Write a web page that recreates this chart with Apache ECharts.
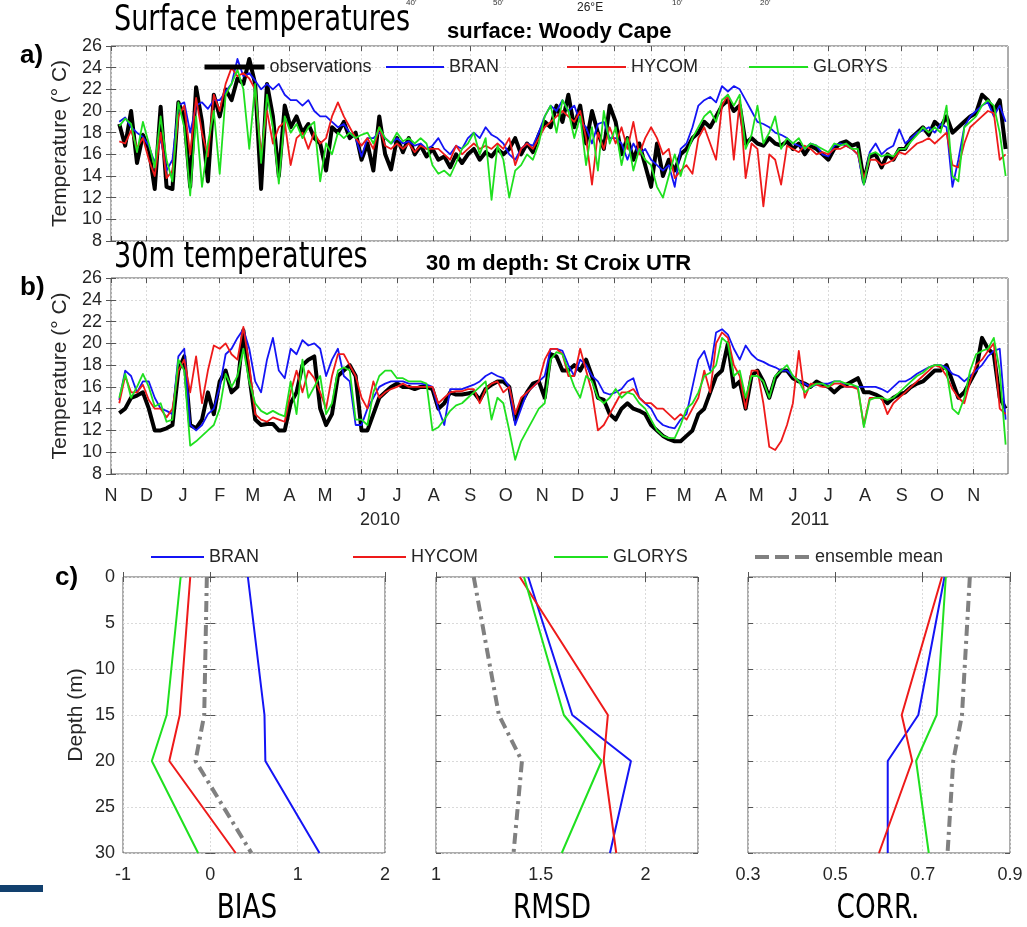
<!DOCTYPE html>
<html>
<head>
<meta charset="utf-8">
<script src="https://cdn.jsdelivr.net/npm/echarts@6/dist/echarts.min.js"></script>
<style>
  html, body { margin: 0; padding: 0; background: #fff; }
  #main { width: 1027px; height: 927px; }
</style>
</head>
<body>
<div id="main"></div>
<script>
var chartDom = document.getElementById('main');
var myChart = echarts.init(chartDom);
var option;

const DAY = 86400000;
// x of panels a and b is days since 1 Nov 2009
const origin = Date.UTC(2009, 10, 1);
// one sample every 5 days, first one on 8 Nov 2009 (day 7)
const sampleFirstDay = 7;
const sampleStep = 5;

// a) surface, Woody Cape
const surfObs = [
  18.8, 16.8, 20.0, 15.2, 17.8,
  16.5, 12.8, 20.4, 13.0, 12.8, 20.8,
  19.5, 13.0, 22.2, 19.0, 13.5, 21.5,
  19.5, 22.0, 21.0, 23.0, 22.5, 24.8,
  22.5, 12.8, 22.5, 19.5, 14.0, 20.5,
  18.5, 19.5, 18.0, 18.8, 17.5, 17.0,
  14.5, 18.5, 18.0, 19.0, 17.5, 18.0,
  15.5, 17.0, 14.5, 19.5, 16.0, 14.6,
  17.5, 16.2, 17.5, 16.0, 16.8, 15.8, 16.5,
  15.5, 15.8, 14.8, 16.0, 15.2, 16.0,
  16.5, 15.5, 16.2, 15.8, 16.5, 16.0,
  16.5, 17.5, 16.0, 17.0, 16.2, 17.8,
  19.0, 18.5, 20.5, 19.0, 21.5, 18.5,
  20.5, 17.0, 20.0, 18.0, 16.5, 20.5,
  19.0, 16.0, 17.5, 15.5, 17.0, 15.0,
  13.0, 17.0, 14.0, 15.5, 14.5, 16.0,
  16.5, 17.5, 18.0, 19.0, 18.5, 19.5,
  20.5, 21.0, 20.0, 20.5, 17.0, 17.5,
  17.0, 16.8, 17.5, 17.0, 16.8, 17.2,
  16.5, 17.0, 16.0, 16.8, 16.5, 16.0,
  15.5, 16.5, 17.0, 17.2, 16.8, 17.0, 13.5,
  15.8, 16.0, 14.8, 16.0, 15.5, 16.5,
  16.5, 17.5, 18.0, 18.5, 17.8, 19.0,
  18.5, 19.5, 18.0, 18.5, 19.0, 19.5,
  19.8, 21.5, 21.0, 20.0, 21.0, 16.5
];
const surfBran = [
  19.0, 19.4, 18.5, 18.0, 17.6,
  16.8, 15.2, 17.5, 14.5, 15.5, 20.5,
  20.8, 18.0, 20.5, 20.8, 20.2, 21.0,
  21.0, 21.8, 22.5, 24.8, 23.2, 23.5,
  22.8, 22.0, 22.5, 22.0, 22.5, 21.5,
  21.0, 21.0, 20.5, 21.0, 20.0, 19.5,
  19.5, 19.0, 18.5, 18.8, 18.0, 17.5,
  15.8, 17.5, 17.5, 18.0, 17.5, 17.0,
  17.5, 17.0, 17.2, 16.8, 17.0, 16.5, 16.8,
  17.5, 16.5, 16.0, 16.8, 16.5, 17.5,
  18.0, 17.5, 18.5, 17.8, 17.5, 17.0,
  16.0, 15.5, 16.5, 17.0, 16.8, 18.0,
  19.5, 20.5, 20.0, 21.0, 20.0, 20.5,
  19.0, 18.5, 17.0, 18.8, 19.0, 17.5,
  17.5, 17.0, 15.5, 17.0, 16.0, 16.5,
  15.5, 15.0, 14.5, 15.0, 13.0, 16.5,
  17.0, 18.5, 20.5, 21.0, 21.3, 20.8,
  22.3, 21.8, 22.3, 22.0, 21.0, 20.0,
  19.0, 18.8, 18.5, 18.0, 17.8, 17.5,
  17.0, 16.8, 16.5, 17.0, 16.8, 16.0,
  15.8, 16.8, 17.0, 16.8, 16.5, 16.0, 13.2,
  16.2, 17.0, 16.0, 16.5, 16.8, 18.3,
  17.0, 17.5, 18.0, 18.2, 18.5, 18.0,
  18.8, 18.5, 13.0, 15.5, 18.5, 19.5,
  20.0, 20.5, 20.8, 19.5, 20.5, 19.0
];
const surfHycom = [
  17.2, 17.0, 18.2, 16.6, 17.5,
  15.5, 14.0, 18.0, 13.8, 14.5, 19.5,
  20.5, 16.0, 21.2, 18.0, 15.8, 21.5,
  20.0, 22.5, 24.0, 23.2, 23.5, 23.0,
  22.0, 16.0, 20.0, 17.0, 18.5, 19.0,
  15.0, 17.5, 18.0, 16.5, 18.0, 17.0,
  17.5, 19.5, 20.8, 19.5, 18.5, 17.5,
  16.8, 17.5, 16.5, 18.5, 16.8, 16.5,
  17.0, 16.5, 17.0, 16.2, 16.8, 16.5, 16.5,
  16.5, 16.0, 15.5, 16.8, 16.0, 16.5,
  17.0, 16.5, 16.8, 16.5, 17.0, 16.5,
  17.5, 15.0, 16.5, 17.0, 16.5, 17.5,
  18.5, 19.0, 19.5, 20.0, 19.5, 19.0,
  20.0, 17.5, 13.2, 18.0, 16.5, 18.5,
  17.0, 18.5, 16.5, 19.0, 16.0, 17.5,
  18.5, 17.5, 16.0, 16.5, 13.8, 14.5,
  15.0, 14.2, 17.5, 18.5, 17.0, 15.5,
  20.5, 21.5, 15.5, 21.0, 13.8, 17.0,
  16.5, 11.2, 16.0, 15.5, 13.2, 16.8,
  16.5, 16.2, 16.8, 16.5, 16.0, 16.2,
  16.0, 16.5, 16.5, 16.8, 16.5, 16.0, 13.8,
  15.5, 15.5, 15.0, 15.2, 15.5, 16.2,
  16.0, 16.5, 17.0, 17.2, 17.5, 17.0,
  17.5, 18.0, 15.0, 14.8, 17.0, 18.5,
  19.0, 19.5, 20.0, 19.8, 15.5, 16.0
];
const surfGlorys = [
  18.6, 19.3, 18.8, 16.2, 19.0,
  17.0, 14.8, 19.5, 15.5, 13.5, 20.8,
  18.5, 12.2, 19.5, 13.0, 17.0, 20.0,
  14.2, 21.5, 22.5, 23.8, 22.0, 16.5,
  22.5, 15.2, 21.5, 18.5, 13.3, 19.5,
  18.0, 18.8, 17.5, 18.5, 19.0, 13.5,
  17.0, 16.0, 18.0, 17.5, 18.0, 17.5,
  17.8, 18.0, 17.0, 18.5, 17.5, 17.0,
  18.0, 17.2, 17.5, 17.0, 17.5, 17.0, 15.0,
  14.2, 14.5, 14.0, 15.2, 16.5, 17.0,
  18.0, 16.0, 17.5, 11.8, 16.8, 15.5,
  12.0, 14.5, 15.0, 16.0, 15.5, 17.0,
  19.5, 20.5, 18.0, 21.0, 20.0, 17.5,
  19.5, 15.0, 18.5, 14.5, 20.0, 17.0,
  18.5, 15.0, 17.5, 14.5, 16.5, 15.5,
  15.0, 13.0, 12.0, 14.0, 16.0, 14.0,
  16.0, 17.5, 18.5, 19.5, 20.0, 19.0,
  21.0, 21.5, 20.5, 21.5, 16.5, 17.8,
  20.5, 17.0, 18.0, 19.5, 16.5, 17.5,
  17.0, 17.5, 16.5, 17.0, 16.8, 16.5,
  16.2, 17.0, 16.8, 17.0, 16.5, 16.5, 13.2,
  16.0, 16.2, 15.8, 16.0, 15.8, 16.5,
  16.5, 17.2, 17.8, 18.5, 18.0, 18.5,
  18.0, 20.5, 14.0, 13.5, 18.5, 19.0,
  19.5, 20.5, 21.0, 20.5, 18.0, 14.0
];

// b) 30 m depth, St Croix UTR
const deepObs = [
  13.6, 14.0, 15.0, 15.2, 15.5,
  14.0, 12.0, 12.0, 12.2, 12.5, 17.5,
  18.8, 12.5, 12.2, 13.0, 15.5, 13.5,
  16.5, 17.5, 15.5, 16.0, 21.2, 17.0,
  13.0, 12.5, 12.6, 12.6, 12.0, 12.0,
  14.5, 15.5, 18.0, 18.5, 18.8, 14.0,
  12.5, 13.5, 17.0, 17.5, 18.0, 17.0,
  12.0, 12.0, 13.5, 15.0, 15.5, 16.0,
  16.3, 16.0, 16.0, 15.8, 16.0, 16.0, 15.8,
  14.0, 14.5, 15.5, 15.3, 15.3, 15.4,
  15.5, 14.8, 15.8, 16.2, 16.5, 16.5,
  16.0, 13.0, 14.5, 15.5, 16.3, 16.5,
  15.0, 19.0, 18.8, 17.5, 17.5, 18.0,
  17.5, 18.5, 17.0, 15.0, 14.8, 13.5,
  13.0, 14.0, 14.5, 14.0, 13.8, 13.5,
  12.5, 12.0, 11.5, 11.2, 11.0, 11.0,
  11.5, 12.0, 13.5, 14.0, 15.5, 17.0,
  17.5, 20.0, 16.0, 16.5, 14.0, 17.0,
  17.5, 16.5, 15.0, 16.8, 17.5, 17.5,
  16.8, 16.5, 16.3, 16.0, 16.5, 16.2,
  16.0, 15.5, 16.0, 16.2, 16.5, 16.8, 15.5,
  15.5, 15.3, 15.0, 14.5, 15.0, 15.3,
  15.5, 16.0, 16.3, 16.5, 17.0, 17.5,
  17.5, 18.0, 16.5, 15.0, 15.5, 16.5,
  17.5, 20.5, 19.5, 19.0, 15.0, 14.0
];
const deepBran = [
  14.8, 17.5, 17.0, 15.5, 16.5,
  16.5, 15.0, 14.0, 13.8, 13.5, 18.8,
  19.5, 12.5, 12.0, 12.5, 13.5, 14.0,
  16.0, 19.0, 19.5, 20.5, 21.3, 19.5,
  16.5, 15.5, 18.5, 20.5, 17.5, 16.8,
  19.5, 19.0, 20.3, 19.8, 20.0, 19.5,
  17.0, 18.5, 19.5, 17.0, 16.5, 12.5,
  12.5, 14.0, 15.0, 16.0, 16.3, 16.5,
  16.5, 16.5, 16.3, 16.3, 16.3, 16.2, 16.0,
  14.0, 12.5, 15.8, 15.8, 15.8, 16.0,
  16.2, 16.5, 17.0, 17.3, 17.0, 16.8,
  16.0, 12.5, 14.0, 15.5, 16.0, 16.5,
  17.0, 19.5, 19.5, 19.3, 18.0, 17.0,
  18.5, 18.0, 17.0, 16.5, 15.5, 15.3,
  15.5, 15.8, 16.5, 16.8, 15.0, 14.5,
  14.0, 13.0, 12.5, 12.3, 12.2, 13.0,
  13.5, 16.0, 18.5, 19.3, 17.5, 21.0,
  21.3, 20.8, 19.5, 18.5, 19.8, 19.0,
  18.5, 18.3, 18.0, 17.8, 17.5, 17.5,
  17.0, 16.5, 16.3, 16.0, 16.2, 16.3,
  16.3, 16.5, 16.5, 16.0, 16.0, 16.0, 16.0,
  16.0, 16.0, 15.8, 15.5, 16.0, 16.5,
  16.5, 16.8, 17.2, 17.5, 17.8, 18.0,
  18.0, 17.8, 17.2, 17.0, 16.5, 17.0,
  17.5, 18.0, 18.8, 19.3, 19.5, 13.0
];
const deepHycom = [
  14.5, 17.0, 15.5, 15.5, 16.2,
  14.8, 14.0, 14.0, 13.2, 14.0, 17.5,
  18.5, 15.5, 18.8, 14.5, 17.5, 19.8,
  19.5, 20.0, 19.0, 18.5, 21.5, 18.0,
  13.5, 13.0, 12.8, 13.2, 13.0, 12.8,
  15.5, 17.5, 15.5, 17.5, 16.8, 15.5,
  14.0, 17.0, 19.0, 19.0, 18.0, 17.0,
  15.0, 14.0, 16.5, 15.0, 15.5, 15.8,
  16.0, 16.3, 16.0, 16.0, 16.0, 16.0, 16.0,
  14.5, 15.0, 15.5, 15.6, 15.6, 15.8,
  15.8, 14.5, 15.8, 16.3, 16.5, 15.5,
  16.0, 13.5, 15.0, 15.5, 16.0, 16.5,
  18.5, 19.5, 19.5, 19.0, 17.0, 17.0,
  19.5, 17.5, 15.5, 12.0, 12.5, 13.5,
  14.5, 15.5, 15.5, 15.8, 15.0, 14.5,
  14.5, 14.0, 14.0, 13.5, 13.0, 13.5,
  13.0, 14.0, 15.0, 17.5, 15.5, 20.0,
  21.0, 20.5, 18.0, 17.0, 14.0, 17.5,
  17.5, 14.5, 10.5, 10.2, 11.0, 12.5,
  14.5, 19.3, 15.0, 16.3, 16.2, 16.0,
  16.0, 16.3, 16.3, 16.0, 16.0, 15.8, 12.5,
  15.0, 15.0, 15.0, 13.5, 14.5, 15.0,
  15.5, 16.0, 16.5, 17.0, 17.5, 18.0,
  17.8, 17.0, 15.8, 15.0, 14.5, 16.5,
  18.0, 18.5, 19.3, 20.0, 14.0, 13.5
];
const deepGlorys = [
  15.0, 17.2, 15.0, 16.0, 17.2,
  16.0, 14.2, 14.5, 12.8, 13.0, 18.5,
  17.5, 10.6, 11.0, 11.5, 12.0, 12.5,
  14.0, 17.2, 16.0, 17.0, 19.5, 16.5,
  14.5, 13.8, 13.5, 13.8, 13.5, 13.3,
  16.5, 13.5, 18.5, 15.0, 16.0, 17.0,
  13.5, 14.5, 17.5, 17.8, 17.5, 13.0,
  13.0, 12.5, 15.5, 17.0, 17.5, 17.5,
  16.8, 16.8, 16.5, 16.5, 16.5, 16.3, 12.0,
  12.3, 13.0, 13.8, 14.3, 14.5, 15.0,
  15.5, 16.0, 16.5, 13.0, 15.0, 14.5,
  12.0, 9.3, 11.0, 12.0, 13.0, 14.0,
  14.5, 18.5, 19.2, 19.0, 17.5, 16.0,
  15.0, 17.0, 16.5, 15.0, 14.5, 15.0,
  15.8, 15.0, 15.5, 15.3, 14.5, 14.0,
  13.0, 12.0, 11.5, 11.3, 11.3, 12.5,
  14.0, 14.5, 15.5, 17.0, 17.3, 18.0,
  20.5, 20.0, 17.0, 17.5, 15.0, 17.0,
  17.0, 16.5, 15.0, 17.0, 17.5, 18.0,
  17.0, 16.5, 15.5, 16.0, 16.3, 16.3,
  16.0, 16.5, 16.5, 16.3, 16.2, 16.0, 12.3,
  14.8, 15.0, 15.0, 14.8, 15.0, 15.5,
  16.0, 16.5, 17.0, 17.3, 17.8, 18.0,
  18.0, 17.5, 14.0, 13.5, 15.0, 17.5,
  19.0, 19.3, 19.5, 20.5, 17.5, 10.7
];

// c) skill profiles
const depths = [0, 15, 20, 30];
const biasBran = [0.43, 0.62, 0.63, 1.25];
const biasHycom = [-0.23, -0.35, -0.47, 0.29];
const biasGlorys = [-0.34, -0.50, -0.67, -0.14];
const biasEns = [-0.04, -0.07, -0.17, 0.47];
const rmsdBran = [1.44, 1.65, 1.93, 1.83];
const rmsdHycom = [1.40, 1.82, 1.80, 1.86];
const rmsdGlorys = [1.42, 1.61, 1.79, 1.60];
const rmsdEns = [1.18, 1.30, 1.41, 1.37];
const corrBran = [0.75, 0.69, 0.62, 0.62];
const corrHycom = [0.744, 0.652, 0.676, 0.60];
const corrGlorys = [0.753, 0.732, 0.685, 0.714];
const corrEns = [0.808, 0.79, 0.77, 0.757];

const monthLetters = 'JFMAMJJASOND';
// month starts Nov 2009 .. Nov 2011, as day numbers
const monthTicks = [];
for (let m = 0; m < 25; m++) monthTicks.push(Math.round((Date.UTC(2009, 10 + m, 1) - origin) / DAY));
const lastDay = Math.round((Date.UTC(2011, 10, 30) - origin) / DAY);

const sans = '"Liberation Sans", Arial, sans-serif';
const narrow = '"Liberation Sans Narrow", "DejaVu Sans Condensed", sans-serif';
const txt = '#262626';
const colObs = '#000000', colBran = '#1414f5', colHycom = '#ee1a1a', colGlorys = '#1fe01f', colEns = '#808080';

const toPairs = vals => vals.map((v, i) => [sampleFirstDay + i * sampleStep, v]);

const tick = { show: true, inside: true, length: 5, lineStyle: { color: '#555', width: 1 } };
const split = { show: true, lineStyle: { color: '#dadada', width: 1, type: [2, 2] } };
const noSplit = { show: false };
const label = { fontFamily: sans, fontSize: 18, color: txt };

const grid = [
  { left: 111, top: 46, width: 897, height: 195 },
  { left: 111, top: 278, width: 897, height: 196 },
  { left: 123, top: 577, width: 262, height: 276 },
  { left: 436, top: 577, width: 262, height: 276 },
  { left: 748, top: 577, width: 262, height: 276 }
].map(g => Object.assign({ show: true, borderColor: '#5a5a5a', borderWidth: 1, outerBoundsMode: 'none' }, g));

function dayAxis(gi, position, showLabel) {
  return {
    type: 'value', gridIndex: gi, position, min: 0, max: lastDay,
    axisLine: { show: false },
    axisTick: Object.assign({ customValues: monthTicks }, tick),
    axisLabel: Object.assign({
      show: showLabel, customValues: monthTicks, margin: 13,
      formatter: v => monthLetters[new Date(origin + v * DAY).getUTCMonth()]
    }, label),
    splitLine: position === 'bottom' ? split : noSplit
  };
}
function tempAxis(gi, position) {
  const left = position === 'left';
  return {
    type: 'value', gridIndex: gi, position, min: 8, max: 26, interval: 2,
    name: left ? 'Temperature (° C)' : '', nameLocation: 'middle', nameGap: 28, nameRotate: 90,
    nameTextStyle: { fontFamily: sans, fontSize: 21, color: txt },
    axisLine: { show: false },
    axisTick: tick,
    axisLabel: Object.assign({ show: left, margin: 9 }, label),
    splitLine: left ? split : noSplit
  };
}
function skillXAxis(gi, position, min, max, interval) {
  const bottom = position === 'bottom';
  return {
    type: 'value', gridIndex: gi, position, min, max, interval,
    axisLine: { show: false },
    axisTick: tick,
    axisLabel: Object.assign({ show: bottom, margin: 13, showMaxLabel: max !== 2.25 }, label),
    splitLine: bottom ? split : noSplit
  };
}
function depthAxis(gi, position, withLabels) {
  const left = position === 'left';
  return {
    type: 'value', gridIndex: gi, position, inverse: true, min: 0, max: 30, interval: 5,
    name: left && withLabels ? 'Depth (m)' : '', nameLocation: 'middle', nameGap: 36, nameRotate: 90,
    nameTextStyle: { fontFamily: sans, fontSize: 21, color: txt },
    axisLine: { show: false },
    axisTick: tick,
    axisLabel: Object.assign({ show: left && withLabels, margin: 8 }, label),
    splitLine: left ? split : noSplit
  };
}

const xAxis = [
  dayAxis(0, 'bottom', false), dayAxis(0, 'top', false),
  dayAxis(1, 'bottom', true), dayAxis(1, 'top', false),
  skillXAxis(2, 'bottom', -1, 2, 1), skillXAxis(2, 'top', -1, 2, 1),
  skillXAxis(3, 'bottom', 1, 2.25, 0.5), skillXAxis(3, 'top', 1, 2.25, 0.5),
  skillXAxis(4, 'bottom', 0.3, 0.9, 0.2), skillXAxis(4, 'top', 0.3, 0.9, 0.2)
];
const yAxis = [
  tempAxis(0, 'left'), tempAxis(0, 'right'),
  tempAxis(1, 'left'), tempAxis(1, 'right'),
  depthAxis(2, 'left', true), depthAxis(2, 'right', false),
  depthAxis(3, 'left', false), depthAxis(3, 'right', false),
  depthAxis(4, 'left', false), depthAxis(4, 'right', false)
];

function tsLine(name, vals, ax, color, width) {
  return {
    name, type: 'line', xAxisIndex: ax, yAxisIndex: ax, data: toPairs(vals),
    symbol: 'none', showSymbol: false, silent: true,
    lineStyle: { color, width, join: 'round' }, itemStyle: { color }
  };
}
function profLine(name, vals, ax, color, width, type) {
  return {
    name, type: 'line', xAxisIndex: ax, yAxisIndex: ax,
    data: vals.map((v, i) => [v, depths[i]]),
    symbol: 'none', showSymbol: false, silent: true,
    lineStyle: { color, width, type: type || 'solid' }, itemStyle: { color }
  };
}
const ensDash = [11, 5, 3, 5];

const series = [
  tsLine('observations', surfObs, 0, colObs, 4),
  tsLine('BRAN', surfBran, 0, colBran, 1.8),
  tsLine('HYCOM', surfHycom, 0, colHycom, 1.8),
  tsLine('GLORYS', surfGlorys, 0, colGlorys, 1.8),
  tsLine('observations', deepObs, 2, colObs, 4),
  tsLine('BRAN', deepBran, 2, colBran, 1.8),
  tsLine('HYCOM', deepHycom, 2, colHycom, 1.8),
  tsLine('GLORYS', deepGlorys, 2, colGlorys, 1.8),
  profLine('BRAN', biasBran, 4, colBran, 2),
  profLine('HYCOM', biasHycom, 4, colHycom, 2),
  profLine('GLORYS', biasGlorys, 4, colGlorys, 2),
  profLine('ensemble mean', biasEns, 4, colEns, 4, ensDash),
  profLine('BRAN', rmsdBran, 6, colBran, 2),
  profLine('HYCOM', rmsdHycom, 6, colHycom, 2),
  profLine('GLORYS', rmsdGlorys, 6, colGlorys, 2),
  profLine('ensemble mean', rmsdEns, 6, colEns, 4, ensDash),
  profLine('BRAN', corrBran, 8, colBran, 2),
  profLine('HYCOM', corrHycom, 8, colHycom, 2),
  profLine('GLORYS', corrGlorys, 8, colGlorys, 2),
  profLine('ensemble mean', corrEns, 8, colEns, 4, ensDash)
];

function legendAt(name, left, top, width, lineStyle) {
  const l = {
    data: [name], left, top, padding: 0, itemWidth: width, itemHeight: 18,
    selectedMode: false, itemGap: 0,
    itemStyle: { opacity: 0 },
    textStyle: { fontFamily: sans, fontSize: 18, color: txt }
  };
  if (lineStyle) l.lineStyle = lineStyle;
  return l;
}
const legend = [
  legendAt('observations', 202, 58, 60, { width: 5 }),
  legendAt('BRAN', 385, 58, 58),
  legendAt('HYCOM', 566, 58, 59),
  legendAt('GLORYS', 748, 58, 59),
  legendAt('BRAN', 150, 548, 53),
  legendAt('HYCOM', 352, 548, 53),
  legendAt('GLORYS', 553, 548, 54),
  legendAt('ensemble mean', 753, 548, 55, { width: 4, type: [14, 6] })
];

function label2(text, x, y, font, align, color, sx) {
  return {
    type: 'text', x, y, silent: true, scaleX: sx || 1,
    style: { text, font, fill: color || '#000', align: align || 'left', verticalAlign: 'middle' }
  };
}
const elements = [
  label2("40'", 406, 3, '8px ' + sans, 'left', '#333'),
  label2("50'", 493, 3, '8px ' + sans, 'left', '#333'),
  label2('26°E', 577, 8, '12px ' + sans, 'left', '#222'),
  label2("10'", 672, 3, '8px ' + sans, 'left', '#333'),
  label2("20'", 760, 3, '8px ' + sans, 'left', '#333'),
  label2('Surface temperatures', 114, 21, '35px ' + narrow, 'left', '#000', 0.86),
  label2('surface: Woody Cape', 447, 32, 'bold 22px ' + sans),
  label2('30m temperatures', 114, 258, '35px ' + narrow, 'left', '#000', 0.86),
  label2('30 m depth: St Croix UTR', 426, 264, 'bold 22px ' + sans),
  label2('a)', 20, 56, 'bold 26px ' + sans),
  label2('b)', 20, 288, 'bold 26px ' + sans),
  label2('c)', 55, 578, 'bold 26px ' + sans),
  label2('2010', 380, 520, '18px ' + sans, 'center', txt),
  label2('2011', 810, 520, '18px ' + sans, 'center', txt),
  label2('BIAS', 247, 909, '34px ' + narrow, 'center', '#000', 0.86),
  label2('RMSD', 552, 909, '34px ' + narrow, 'center', '#000', 0.86),
  label2('CORR.', 878, 909, '34px ' + narrow, 'center', '#000', 0.86),
  {
    type: 'rect', silent: true,
    shape: { x: 0, y: 885, width: 43, height: 7 },
    style: { fill: '#12406e' }
  }
];

option = {
  animation: false,
  backgroundColor: '#ffffff',
  grid,
  xAxis,
  yAxis,
  legend,
  series,
  graphic: { elements }
};

option && myChart.setOption(option);
</script>
</body>
</html>
